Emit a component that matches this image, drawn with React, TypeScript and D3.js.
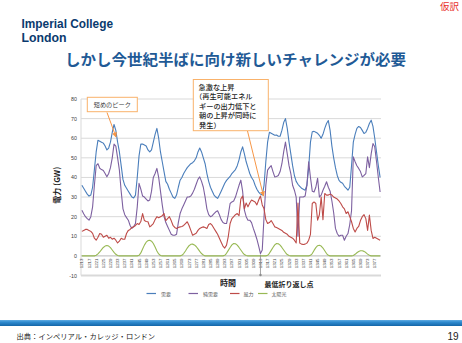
import React from "react";
import * as d3 from "d3";

// ---- data (hourly, 7 days) ----
const firstCategory = 1213;

const demand = [
  36, 34.5, 33, 31.5, 30.5, 31, 35, 44, 53, 59, 58.5, 58, 57.5, 56, 54, 55, 58, 63, 67, 64, 58, 53, 46, 39,
  36, 34.5, 33, 31.5, 30, 29.5, 31, 40, 51, 57, 57, 56.5, 56, 54, 53, 54, 58, 62, 65, 60, 53, 48, 43, 38,
  36.5, 34, 32, 30, 29.3, 31, 35, 38.6, 40, 42, 43.5, 45, 46, 47, 47.5, 48.5, 50, 53, 55, 53, 50, 47, 42, 38,
  35, 33, 31, 30, 29.3, 31, 33, 35, 37, 38.5, 39.5, 40.5, 42, 43, 44, 46, 49, 53, 55.6, 52, 48, 45, 42, 40,
  38.6, 36, 34, 32.5, 31.5, 31, 36, 48, 58, 63, 62.5, 62, 61.5, 61.6, 61, 61, 64, 68, 70, 65, 58, 52, 46, 41,
  38, 36.5, 35.5, 34.5, 34, 33.5, 36, 45, 58, 63.3, 63.5, 63, 62.5, 61.5, 60, 62, 65, 67.5, 69, 64, 56, 50, 45, 41,
  38.5, 37.5, 37, 35.5, 34.5, 33.5, 35, 46, 58, 62, 65, 66, 65.5, 64, 62.4, 63, 65, 67.5, 69.2, 66, 60, 53, 46, 40,
];

const netDemand = [
  23.3, 21.5, 20, 19, 18.2, 20, 25, 36, 46, 47, 44.7, 44, 43.5, 42, 40.3, 42, 45, 50, 57, 56, 50, 43.7, 33, 24,
  21, 19.5, 18.2, 15.5, 14, 15, 16.5, 25, 37, 34, 30.5, 30, 29, 28, 28.5, 33, 40, 42, 44.6, 40, 33, 26, 20, 17,
  15, 13, 11, 10.5, 10.5, 11, 17, 21.6, 24, 26, 28, 30, 30, 30.5, 32, 34, 36.5, 39, 40.3, 38, 35, 30, 24, 21,
  20, 20.5, 21.5, 22.5, 23, 21, 18.5, 17, 16.5, 16.5, 21, 26.7, 27.5, 28, 30, 33, 36, 38.6, 33, 23.3, 20, 18.2, 18.2, 17,
  14, 11.4, 8.5, 5, 1.2, 3, 20, 36, 43.7, 45, 46, 43, 40.3, 40.5, 41, 43, 47, 53, 58, 52, 46, 42, 36, 33.5,
  30, 10, 30, 30, 30, 30.5, 36, 48, 40, 33, 32.6, 35, 39.6, 30, 31, 33.5, 35.5, 37.8, 35, 33, 28, 22, 14, 11.4,
  10, 10.5, 10.5, 8, 10, 11.4, 16, 23, 50.5, 48, 46, 44.6, 43, 40.3, 41, 42, 50.5, 45, 52, 57.3, 55.6, 48, 40, 32.6,
];

const wind = [
  12.5, 13, 13.5, 13.5, 13, 12.5, 11.5, 9, 8, 9.5, 11.4, 11, 9.5, 10, 10.5, 9, 9.5, 8.5, 9, 8, 6.6, 7.5, 9, 8.5,
  8.5, 11.4, 13, 13.5, 14.5, 14.8, 15.5, 16.5, 16, 17.5, 21.6, 18, 17.5, 17.4, 14.8, 15.5, 16.5, 18.5, 20, 19.5, 20, 20.5, 21.6, 18,
  19, 20, 18, 15.6, 14.5, 14, 14.5, 14.8, 15, 15.5, 16.5, 17.4, 15.5, 13, 10.5, 11, 11.5, 13, 14, 14.5, 14.8, 14.5, 14, 16,
  16.5, 15.5, 14, 12.5, 11, 9, 7, 5, 4, 5.5, 10, 16.5, 19, 20, 21, 21.6, 20.5, 29, 30.5, 24, 27, 25, 27, 28.5,
  28, 27.5, 26, 28.5, 30.5, 26, 24, 18.5, 16.5, 17, 18, 16.5, 14.8, 14.5, 14, 13.5, 13, 12, 11.5, 11, 10, 9.5, 9, 8,
  6.6, 27, 6.5, 6, 5.8, 6, 6.5, 8, 11, 26.7, 27.5, 26.7, 18.2, 21, 30, 18.5, 31.8, 31, 31, 31.5, 31, 30, 29.5, 29,
  28, 26.7, 25, 24, 21.6, 22.5, 20, 17.4, 14, 12.2, 14, 15, 18, 20, 21, 19, 13, 20.8, 13, 8.9, 9.5, 9, 8.5, 8,
];

const solar = [
  0, 0, 0, 0, 0, 0, 0, 0, 0.3, 1, 2, 3.2, 4.3, 5, 5.3, 5, 4.2, 3, 1.8, 0.8, 0.2, 0, 0, 0,
  0, 0, 0, 0, 0, 0, 0, 0, 0.3, 1.5, 3.5, 5.5, 7, 7.8, 8, 7.5, 6.3, 4.5, 2.5, 1, 0.2, 0, 0, 0,
  0, 0, 0, 0, 0, 0, 0, 0, 0.3, 1.2, 2.5, 4, 5.2, 5.9, 6, 5.6, 4.8, 3.6, 2.3, 1.2, 0.4, 0, 0, 0,
  0, 0, 0, 0, 0, 0, 0, 0, 0.3, 1.3, 2.8, 4.3, 5.6, 6.3, 6.2, 5.5, 4.3, 3, 1.7, 0.7, 0.2, 0, 0, 0,
  0, 0, 0, 0, 0, 0, 0, 0, 0.3, 1.3, 2.8, 4.3, 5.6, 6.3, 6.2, 5.5, 4.3, 3, 1.7, 0.7, 0.2, 0, 0, 0,
  0, 0, 0, 0, 0, 0, 0, 0, 0.3, 1.2, 2.8, 4.2, 5.2, 5.4, 5, 4, 2.6, 1.2, 0.3, 0, 0, 0, 0, 0,
  0, 0, 0, 0, 0, 0, 0, 0, 0.2, 0.8, 1.6, 2.2, 2.6, 2.6, 2.3, 1.7, 0.9, 0.3, 0, 0, 0, 0, 0, 0,
];

const yTicks = [80, 70, 60, 50, 40, 30, 20, 10, 0, -10];
const seriesNames = ["需要", "純需要", "風力", "太陽光"];
const seriesColors = ["#4A7EBB", "#7D60A0", "#BE4B48", "#98B954"];
const categories = demand.map((_, i) => firstCategory + i);
const labelStep = 4;

const JP = "'Noto Sans CJK JP', 'Noto Sans', sans-serif";
const LAT = "'Liberation Sans', Arial, sans-serif";

export default function App() {
  const W = 462;
  const H = 343;
  const x = d3
    .scalePoint<number>()
    .domain(categories)
    .range([81, 381])
    .padding(0.5);
  const y = d3.scaleLinear().domain([-10, 80]).range([275.5, 99]);

  const lineGen = d3
    .line<number>()
    .x((_, i) => x(categories[i]) as number)
    .y((d) => y(d));

  const series = [demand, netDemand, wind, solar];

  const lowIdx = netDemand.indexOf(d3.min(netDemand) as number);
  const lowX = x(categories[lowIdx]) as number;

  const legendItems = [
    { lx: 146.5, tx: 161 },
    { lx: 188.5, tx: 203 },
    { lx: 230, tx: 243.5 },
    { lx: 258, tx: 271.5 },
  ];

  return (
    <svg
      width={W}
      height={H}
      viewBox={`0 0 ${W} ${H}`}
      style={{ position: "absolute", left: 0, top: 0, background: "#fff" }}
    >
      <defs>
        <marker
          id="arr"
          viewBox="0 0 10 10"
          refX="9"
          refY="5"
          markerWidth="5"
          markerHeight="5"
          orient="auto-start-reverse"
        >
          <path d="M0,0 L10,5 L0,10 z" fill="#F79646" />
        </marker>
        <linearGradient id="bar" x1="0" y1="0" x2="0" y2="1">
          <stop offset="0" stopColor="#62ADE3" />
          <stop offset="0.35" stopColor="#2E8BD0" />
          <stop offset="1" stopColor="#1466A8" />
        </linearGradient>
      </defs>
      <rect x={0} y={0} width={W} height={H} fill="#fff" />

      {/* header */}
      <text x={21.5} y={28} fontFamily={LAT} fontSize={12} fontWeight={700} fill="#0A3A6E" textLength={91.5} lengthAdjust="spacingAndGlyphs">
        Imperial College
      </text>
      <text x={21.5} y={41.5} fontFamily={LAT} fontSize={12} fontWeight={700} fill="#0A3A6E" textLength={45} lengthAdjust="spacingAndGlyphs">
        London
      </text>
      <text x={459} y={10} textAnchor="end" fontFamily={JP} fontSize={9.5} fill="#E8302A">
        仮訳
      </text>
      <text x={65} y={65} fontFamily={JP} fontSize={15} fontWeight={700} fill="#1F5A96" textLength={341} lengthAdjust="spacingAndGlyphs">
        しかし今世紀半ばに向け新しいチャレンジが必要
      </text>

      {/* gridlines */}
      {yTicks.map((t) => (
        <line
          key={t}
          x1={81}
          x2={381}
          y1={y(t)}
          y2={y(t)}
          stroke="#D9D9D9"
          strokeWidth={t === -10 ? 2 : 1}
        />
      ))}
      <line x1={81} x2={81} y1={y(80)} y2={y(-10)} stroke="#D9D9D9" strokeWidth={1} />
      <line x1={81} x2={381} y1={y(0)} y2={y(0)} stroke="#BFBFBF" strokeWidth={0.8} />

      {/* y tick labels */}
      {yTicks.map((t) => (
        <text
          key={t}
          x={77}
          y={y(t)}
          textAnchor="end"
          dominantBaseline="central"
          fontFamily={LAT}
          fontSize={5.3}
          fill="#404040"
        >
          {t}
        </text>
      ))}

      {/* y axis title */}
      <text
        transform={`translate(56,${(y(80) + y(-10)) / 2 - 2}) rotate(-90)`}
        textAnchor="middle"
        dominantBaseline="central"
        fontFamily={JP}
        fontSize={8}
        fontWeight={700}
        fill="#222"
      >
        電力 (GW)
      </text>

      {/* x tick labels */}
      {categories
        .filter((_, i) => i % labelStep === 0)
        .map((c) => (
          <text
            key={c}
            transform={`translate(${x(c)},258.5) rotate(-90)`}
            textAnchor="end"
            dominantBaseline="central"
            fontFamily={LAT}
            fontSize={4.4}
            fill="#404040"
          >
            {c}
          </text>
        ))}

      {/* series */}
      {series.map((s, k) => (
        <path
          key={k}
          d={lineGen(s) || ""}
          fill="none"
          stroke={seriesColors[k]}
          strokeWidth={1.1}
          strokeLinejoin="round"
        />
      ))}

      {/* x axis title */}
      <rect x={212} y={277} width={32} height={12} fill="#fff" />
      <text x={228} y={286} textAnchor="middle" fontFamily={JP} fontSize={8} fontWeight={700} fill="#222">
        時間
      </text>

      {/* lowest point marker */}
      <line x1={lowX} x2={lowX} y1={y(netDemand[lowIdx]) + 1} y2={275} stroke="#8C8C8C" strokeWidth={0.8} />
      <circle cx={lowX} cy={275} r={1.2} fill="#8C8C8C" />
      <text x={289} y={287} textAnchor="middle" fontFamily={JP} fontSize={7} fontWeight={700} fill="#222">
        最低折り返し点
      </text>

      {/* callout 1 */}
      <rect x={87.3} y={97.3} width={50} height={14.4} fill="#fff" stroke="#F9B26B" strokeWidth={1} />
      <text x={112.3} y={104.7} textAnchor="middle" dominantBaseline="central" fontFamily={JP} fontSize={6.2} fill="#404040">
        短めのピーク
      </text>
      <line x1={107} y1={112.5} x2={116} y2={137} stroke="#F79646" strokeWidth={1} markerEnd="url(#arr)" />

      {/* callout 2 */}
      <rect x={193.3} y={79.5} width={75} height={51.2} fill="#fff" stroke="#F9B26B" strokeWidth={1} />
      {[
        { t: "急激な上昇", dx: 198.5, yy: 91 },
        { t: "（再生可能エネル", dx: 195, yy: 100.5 },
        { t: "ギーの出力低下と", dx: 199, yy: 110 },
        { t: "朝の上昇が同時に", dx: 199, yy: 119.5 },
        { t: "発生）", dx: 199, yy: 129 },
      ].map((l) => (
        <text key={l.t} x={l.dx} y={l.yy - 1.5} fontFamily={JP} fontSize={7.2} fontWeight={500} fill="#262626">
          {l.t}
        </text>
      ))}
      <line x1={247.5} y1={131} x2={263.5} y2={196} stroke="#F79646" strokeWidth={1} markerEnd="url(#arr)" />

      {/* legend */}
      {seriesNames.map((n, k) => (
        <g key={n}>
          <line
            x1={legendItems[k].lx}
            x2={legendItems[k].lx + 9.5}
            y1={293.5}
            y2={293.5}
            stroke={seriesColors[k]}
            strokeWidth={1.2}
          />
          <text
            x={legendItems[k].tx}
            y={293.7}
            dominantBaseline="central"
            fontFamily={JP}
            fontSize={5}
            fill="#595959"
          >
            {n}
          </text>
        </g>
      ))}

      {/* footer */}
      <rect x={0} y={320} width={W} height={6} fill="url(#bar)" />
      <text x={16.5} y={339} fontFamily={JP} fontSize={7.3} fill="#222">
        出典：インペリアル・カレッジ・ロンドン
      </text>
      <text x={458.5} y={340} textAnchor="end" fontFamily={LAT} fontSize={10} fill="#222">
        19
      </text>
    </svg>
  );
}
